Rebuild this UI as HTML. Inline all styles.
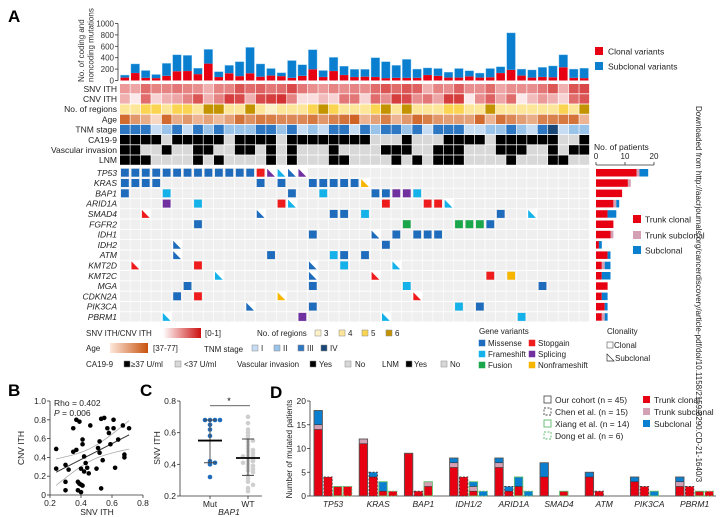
<!DOCTYPE html>
<html><head><meta charset="utf-8"><style>
html,body{margin:0;padding:0;background:#fff;width:721px;height:517px;overflow:hidden;}
svg{display:block;font-family:"Liberation Sans",Arial,sans-serif;overflow:hidden;}
</style></head><body>
<svg id="fig" width="721" height="517" viewBox="0 0 721 517" xmlns="http://www.w3.org/2000/svg">
<g id="gA"></g>
<g id="gB"></g>
<g id="gC"></g>
<g id="gD"></g>
<text x="0" y="0" transform="translate(696,106) rotate(90)" font-size="8" fill="#222">Downloaded from http://aacrjournals.org/cancerdiscovery/article-pdf/doi/10.1158/2159-8290.CD-21-1640/3</text>
</svg>
<script>
// ===== Panel A data =====
const patientTotals=[95,290,175,105,300,450,440,215,545,155,265,330,580,290,210,135,350,275,540,175,405,250,195,195,400,330,265,370,200,220,210,145,210,170,130,210,240,835,200,185,230,255,450,200,215];
const patientClonal=[50,130,45,40,80,160,165,110,295,60,125,75,125,65,85,75,45,80,195,60,165,95,60,65,60,40,45,45,45,95,80,50,50,70,50,55,130,185,85,50,60,55,230,45,40];
const snvITH=[0.4,0.35,0.6,0.5,0.5,0.55,0.5,0.45,0.3,0.5,0.5,0.7,0.6,0.65,0.55,0.6,0.75,0.55,0.45,0.4,0.5,0.45,0.5,0.45,0.6,0.7,0.6,0.7,0.65,0.3,0.5,0.45,0.65,0.45,0.45,0.6,0.35,0.45,0.45,0.45,0.55,0.7,0.3,0.7,0.75];
const cnvITH=[0.3,0.05,0.6,0.15,0.3,0.35,0.5,0.7,0.3,0.5,0.8,0.75,0.3,0.75,0.8,0.85,0.5,0.1,0.1,0.25,0.15,0.55,0.55,0.15,0.6,0.45,0.8,0.75,0.45,0.55,0.35,0.8,0.8,0.05,0.45,0.65,0.35,0.6,0.05,0.25,0.4,0.3,0.15,0.6,0.7];
const regions=[4,4,5,5,4,5,5,4,6,6,4,4,6,4,3,4,4,4,5,6,5,4,4,4,5,6,4,6,4,4,4,5,5,4,4,6,4,4,4,4,4,4,5,4,6];
const ages=[70,58,52,40,70,52,58,50,55,48,55,68,60,66,65,62,62,62,66,58,64,68,72,50,55,65,50,58,70,65,58,56,56,55,70,50,68,62,56,52,64,64,66,68,50];
const tnm=[3,3,3,1,2,3,1,3,2,3,2,2,2,3,3,2,3,1,2,1,3,3,1,3,2,3,3,2,3,1,3,3,3,1,1,2,2,3,2,1,3,4,1,2,2];
const ca199=[1,1,1,1,0,1,1,1,1,1,0,1,1,1,1,0,1,1,1,1,1,1,1,1,0,0,0,1,0,0,0,1,1,1,1,0,1,1,1,1,1,1,0,0,1];
const vascular=[1,1,0,0,1,0,0,1,1,0,0,1,1,0,1,0,1,0,0,0,1,0,0,0,0,1,1,1,0,0,1,1,1,0,0,0,1,1,1,0,0,1,0,1,1];
const lnm=[1,1,1,0,0,0,0,1,0,1,0,0,0,0,1,0,1,0,0,0,1,1,0,0,0,0,1,0,1,0,1,1,1,0,0,0,0,1,0,0,0,1,1,0,0];
const genes=["TP53","KRAS","BAP1","ARID1A","SMAD4","FGFR2","IDH1","IDH2","ATM","KMT2D","KMT2C","MGA","CDKN2A","PIK3CA","PBRM1"];
const mutations=[
[0,0,"M",0],[0,1,"M",0],[0,2,"M",0],[0,3,"M",0],[0,4,"M",0],[0,5,"M",0],[0,6,"M",0],[0,7,"M",0],[0,8,"M",0],[0,9,"M",0],[0,10,"M",0],[0,11,"M",0],[0,12,"M",0],[0,13,"S",0],[0,14,"P",1],[0,15,"F",1],[0,16,"M",1],[0,17,"P",1],
[1,0,"M",0],[1,1,"M",0],[1,2,"M",0],[1,3,"M",0],[1,13,"M",0],[1,15,"M",0],[1,18,"M",0],[1,19,"M",0],[1,20,"M",0],[1,21,"M",0],[1,22,"M",0],[1,23,"N",1],
[2,0,"M",0],[2,4,"F",0],[2,16,"M",0],[2,19,"F",0],[2,24,"M",0],[2,25,"M",0],[2,26,"P",0],[2,27,"P",0],[2,28,"F",0],
[3,4,"P",0],[3,7,"F",0],[3,15,"S",0],[3,16,"F",1],[3,25,"S",0],[3,29,"S",0],[3,30,"S",0],[3,31,"F",1],
[4,2,"S",1],[4,13,"M",1],[4,20,"M",0],[4,21,"M",0],[4,23,"F",0],[4,36,"M",0],[4,39,"F",1],
[5,7,"M",0],[5,27,"U",0],[5,32,"U",0],[5,33,"U",0],[5,34,"U",0],[5,35,"M",0],
[6,18,"M",0],[6,24,"M",1],[6,26,"M",0],[6,28,"M",0],[6,29,"M",0],[6,30,"M",0],
[7,5,"M",1],[7,25,"M",0],
[8,5,"M",1],[8,14,"M",0],[8,20,"F",0],[8,21,"M",0],[8,23,"M",0],
[9,1,"S",1],[9,7,"S",0],[9,18,"M",1],[9,21,"F",0],[9,26,"F",1],
[10,9,"F",1],[10,18,"M",1],[10,24,"S",1],[10,35,"S",0],[10,37,"N",0],
[11,6,"M",0],[11,18,"M",0],[11,27,"F",0],[11,40,"M",0],
[12,5,"M",0],[12,7,"S",0],[12,15,"N",1],[12,28,"S",1],
[13,12,"M",1],[13,18,"M",0],[13,32,"F",0],[13,34,"M",0],
[14,4,"F",1],[14,17,"P",0],[14,25,"F",1],[14,38,"F",0]];
const trunkClonal=[14,11,9,6,4,6,5,1,4,2,2,4,2,3,2];
const trunkSubclonal=[1,1,0,1,0,0,1,0,0,1,0,0,0,0,1];
const subclonalCounts=[3,0,0,1,3,0,0,1,1,2,3,0,2,1,1];
const topTicks=[0,200,400,600,800,1000];
const patientTicks=[0,10,20];
// ===== Panel B data =====
const snvB=[0.24,0.24,0.30,0.30,0.30,0.32,0.35,0.35,0.37,0.37,0.38,0.38,0.39,0.39,0.40,0.40,0.40,0.41,0.41,0.42,0.41,0.42,0.43,0.44,0.45,0.46,0.50,0.51,0.52,0.52,0.53,0.53,0.54,0.55,0.57,0.58,0.59,0.61,0.61,0.62,0.64,0.67,0.68,0.68,0.71];
const cnvB=[0.49,0.28,0.32,0.14,0.05,0.27,0.71,0.46,0.48,0.80,0.14,0.05,0.78,0.12,0.03,0.11,0.28,0.54,0.59,0.41,0.10,0.25,0.34,0.29,0.23,0.74,0.28,0.50,0.57,0.45,0.07,0.81,0.37,0.82,0.71,0.66,0.54,0.80,0.71,0.29,0.59,0.74,0.43,0.40,0.71];
const bTicksX=[0.2,0.4,0.6,0.8];
const bTicksY=[0,0.2,0.4,0.6,0.8,1.0];
// ===== Panel C data =====
const mutVals=[0.68,0.68,0.68,0.68,0.65,0.62,0.58,0.42,0.41,0.40,0.32];
const wtVals=[0.70,0.66,0.62,0.60,0.58,0.56,0.55,0.54,0.52,0.50,0.49,0.48,0.47,0.46,0.45,0.45,0.44,0.43,0.42,0.42,0.41,0.40,0.39,0.38,0.37,0.36,0.35,0.33,0.31,0.29,0.27,0.25,0.23];
const cStats=[[0.55,0.41,0.68],[0.44,0.33,0.56]];
const cTicks=[0.2,0.4,0.6,0.8];
// ===== Panel D data =====
const dGenes=["TP53","KRAS","BAP1","IDH1/2","ARID1A","SMAD4","ATM","PIK3CA","PBRM1"];
const dClonal=[[14,4,2,2],[11,4,1,1],[9,1,2,0],[6,4,1,0],[6,1,2,0],[4,0,1,0],[4,1,0,0],[3,2,0,0],[2,2,1,1]];
const dTrunkSub=[[1,0,0,0],[1,0,0,0],[0,0,1,0],[1,0,1,0],[1,0,0,0],[0,0,0,0],[0,0,0,0],[0,0,0,0],[1,0,0,0]];
const dSubclonal=[[3,0,0,0],[0,1,2,0],[0,0,0,0],[1,0,1,1],[1,1,2,1],[3,0,0,0],[1,0,0,0],[1,0,1,0],[1,0,0,0]];
const dCohorts=["Our cohort (n = 45)","Chen et al. (n = 15)","Xiang et al. (n = 14)","Dong et al. (n = 6)"];
const dTicks=[0,5,10,15,20];

const NS="http://www.w3.org/2000/svg";
function mk(parent,tag,attrs,text){const e=document.createElementNS(NS,tag);for(const k in attrs)e.setAttribute(k,attrs[k]);if(text!==undefined)e.textContent=text;parent.appendChild(e);return e;}
const RED="#e60012",BLUE="#0a7fd0",PINK="#d4a0b4";
const typeColor={M:"#1f6cbd",F:"#15b2ea",U:"#1aa64a",S:"#ee1c1c",P:"#7030a0",N:"#f7b500"};
function mixColor(a,b,t){const pa=[1,3,5].map(i=>parseInt(a.substr(i,2),16)),pb=[1,3,5].map(i=>parseInt(b.substr(i,2),16));return "rgb("+pa.map((v,i)=>Math.round(v+(pb[i]-v)*t)).join(",")+")";}

// ===== Panel A =====
const A=document.getElementById('gA');
let t=mk(A,'text',{x:8,y:22,'font-size':17,'font-weight':'bold'},'A');

const colX=i=>120+i*10.44, CW=9.4;
const barY=v=>80.5-v*57/1000;
let ax=mk(A,'line',{x1:118,y1:barY(0),x2:118,y2:barY(1000),stroke:'#333','stroke-width':0.8});

topTicks.forEach(v=>{mk(A,'line',{x1:115,y1:barY(v),x2:118,y2:barY(v),stroke:'#333','stroke-width':0.8});
 const tl=mk(A,'text',{x:114,y:barY(v)+3,'font-size':8,'text-anchor':'end',fill:'#333'},v);
 });
const yt=mk(A,'text',{transform:'translate(84,82) rotate(-90)','font-size':8,fill:'#333'});

mk(yt,'tspan',{x:0,dy:0},'No. of coding and');mk(yt,'tspan',{x:0,dy:9.5},'noncoding mutations');
patientTotals.forEach((tot,i)=>{
 const c=patientClonal[i];
 const b1=mk(A,'rect',{x:colX(i)+0.5,y:barY(tot),width:8.6,height:barY(c)-barY(tot),fill:BLUE,stroke:'#7cc1ec','stroke-width':0.4});
 
 const b2=mk(A,'rect',{x:colX(i)+0.5,y:barY(c),width:8.6,height:barY(0)-barY(c),fill:RED});
 
});
[[RED,'Clonal variants',47],[BLUE,'Subclonal variants',62]].forEach(([col,lab,y])=>{
 const r=mk(A,'rect',{x:595,y:y,width:8,height:8,fill:col});
 const tx=mk(A,'text',{x:608,y:y+7.5,'font-size':8.5,fill:'#222'},lab);});
const annLabels=["SNV ITH","CNV ITH","No. of regions","Age","TNM stage","CA19-9","Vascular invasion","LNM"];
const regionCol={3:"#fdf1c8",4:"#fde69a",5:"#fbd452",6:"#c49300"};
const tnmCol={1:"#c6ddf3",2:"#9ac3ea",3:"#2e77c3",4:"#1b4776"};
const annY=r=>84+r*10.2;
annLabels.forEach((lab,r)=>{const tx=mk(A,'text',{x:117,y:annY(r)+7.8,'font-size':8.5,'text-anchor':'end',fill:'#222'},lab);
 });
for(let i=0;i<45;i++){
 const cols=[mixColor("#fff5f5","#cc1010",snvITH[i]),mixColor("#fff5f5","#cc1010",cnvITH[i]),regionCol[regions[i]],mixColor("#fde3d2","#c8520c",(ages[i]-37)/40),tnmCol[tnm[i]],ca199[i]?"#000":"#d8d8d8",vascular[i]?"#000":"#d8d8d8",lnm[i]?"#000":"#d8d8d8"];
 cols.forEach((c,r)=>{const cell=mk(A,'rect',{x:colX(i),y:annY(r),width:CW+0.4,height:9.4,fill:c});
  });
}
const gY=g=>168+g*10.3;
genes.forEach((g,gi)=>{const tx=mk(A,'text',{x:117,y:gY(gi)+7.8,'font-size':8.5,'text-anchor':'end','font-style':'italic',fill:'#222'},g);
 
 for(let i=0;i<45;i++){const c=mk(A,'rect',{x:colX(i),y:gY(gi),width:CW+0.4,height:9.4,fill:'#efefef'});
  }});
mutations.forEach(([g,p,ty,sub])=>{
 const x=colX(p)+1,y=gY(g)+0.7,w=CW-1.6,h=8;
 let m;
 if(sub){mk(A,'rect',{x:colX(p),y:gY(g),width:CW+0.4,height:9.4,fill:'#fff'});
  m=mk(A,'polygon',{points:`${x},${y} ${x},${y+h} ${x+w},${y+h}`,fill:typeColor[ty]});}
 else m=mk(A,'rect',{x:x,y:y,width:w,height:h,fill:typeColor[ty]});
 
});
const pX=v=>596+v*58/20;
const pt=mk(A,'text',{x:594,y:150,'font-size':8.5,fill:'#222'},'No. of patients');
mk(A,'line',{x1:pX(0),y1:165,x2:pX(20),y2:165,stroke:'#333','stroke-width':0.8});
patientTicks.forEach(v=>{mk(A,'line',{x1:pX(v),y1:162,x2:pX(v),y2:165,stroke:'#333','stroke-width':0.8});
 const tl=mk(A,'text',{x:pX(v),y:159,'font-size':8,'text-anchor':'middle',fill:'#222'},v);});
genes.forEach((g,gi)=>{let s=0;[[trunkClonal[gi],RED,'trunk-clonal-bar'],[trunkSubclonal[gi],PINK,'trunk-subclonal-bar'],[subclonalCounts[gi],BLUE,'subclonal-bar']].forEach(([v,c,n])=>{
 if(v>0){const r=mk(A,'rect',{x:pX(s),y:gY(gi)+1,width:pX(s+v)-pX(s),height:7.5,fill:c});}s+=v;});});
[[RED,'Trunk clonal',215],[PINK,'Trunk subclonal',231],[BLUE,'Subclonal',246]].forEach(([c,l,y])=>{
 const r=mk(A,'rect',{x:633,y:y,width:8,height:8,fill:c});
 const tx=mk(A,'text',{x:645,y:y+7.5,'font-size':8.5,fill:'#222'},l);});
function txt(x,y,s,name,extra){const e=mk(A,'text',Object.assign({x:x,y:y,'font-size':8,fill:'#222'},extra||{}),s);return e;}
function box(x,y,c,name,stroke){const e=mk(A,'rect',{x:x,y:y,width:6,height:6,fill:c,stroke:stroke||'#888','stroke-width':0.5});return e;}
const defs=mk(document.getElementById('fig'),'defs',{});
const lg1=mk(defs,'linearGradient',{id:'gRed'});mk(lg1,'stop',{offset:0,'stop-color':'#fff'});mk(lg1,'stop',{offset:1,'stop-color':'#cc1010'});
const lg2=mk(defs,'linearGradient',{id:'gAge'});mk(lg2,'stop',{offset:0,'stop-color':'#fde8dc'});mk(lg2,'stop',{offset:1,'stop-color':'#c8520c'});
txt(86,336,'SNV ITH/CNV ITH','legend-ith-title');
let gr=mk(A,'rect',{x:163,y:328,width:38,height:10,fill:'url(#gRed)'});
txt(205,336,'[0-1]','ith-range');
txt(257,336,'No. of regions','legend-regions-title');
[[315,3],[339,4],[362,5],[386,6]].forEach(([x,v])=>{box(x,330,regionCol[v],'regions-swatch');txt(x+9,336,v,'regions-entry');});
txt(86,351,'Age','legend-age-title');
gr=mk(A,'rect',{x:110,y:343,width:38,height:10,fill:'url(#gAge)'});
txt(153,351,'[37-77]','age-range');
txt(204,352,'TNM stage','legend-tnm-title');
[[252,1,'I'],[274,2,'II'],[298,3,'III'],[321,4,'IV']].forEach(([x,v,l])=>{box(x,345,tnmCol[v],'tnm-swatch');txt(x+9,351,l,'tnm-entry');});
txt(86,367,'CA19-9','legend-ca199-title');box(124,361,'#000','ca199-high-swatch');txt(131,367,'≥37 U/ml','ca199-high');box(175,361,'#d8d8d8','ca199-low-swatch');txt(184,367,'<37 U/ml','ca199-low');
txt(237,367,'Vascular invasion','legend-vascular-title');box(310,361,'#000','vascular-yes-swatch');txt(319,367,'Yes','vascular-yes');box(345,361,'#d8d8d8','vascular-no-swatch');txt(355,367,'No','vascular-no');
txt(382,367,'LNM','legend-lnm-title');box(406,361,'#000','lnm-yes-swatch');txt(414,367,'Yes','lnm-yes');box(441,361,'#d8d8d8','lnm-no-swatch');txt(450,367,'No','lnm-no');
txt(479,334,'Gene variants','legend-gene-variants-title');
[['M','Missense',479,346],['F','Frameshift',479,357],['U','Fusion',479,368],['S','Stopgain',529,346],['P','Splicing',529,357],['N','Nonframeshift',529,368]].forEach(([k,l,x,y])=>{box(x,y-6,typeColor[k],'variant-swatch',typeColor[k]);txt(x+9,y,l,'variant-entry');});
txt(607,334,'Clonality','legend-clonality-title');
box(607,342,'#fff','clonal-swatch','#333');txt(614,348,'Clonal','clonal-entry');
let tri=mk(A,'polygon',{points:'607,354 607,361 614,361',fill:'none',stroke:'#333','stroke-width':0.7});
txt(615,361,'Subclonal','subclonal-entry');

// ===== Panel B =====
const B=document.getElementById('gB');
const bx=v=>50+(v-0.2)*93/0.6, by=v=>495-v*94;
t=mk(B,'text',{x:8,y:396,'font-size':17,'font-weight':'bold'},'B');
mk(B,'line',{x1:bx(0.2),y1:by(0),x2:bx(0.8),y2:by(0),stroke:'#333','stroke-width':0.8});
mk(B,'line',{x1:bx(0.2),y1:by(0),x2:bx(0.2),y2:by(1),stroke:'#333','stroke-width':0.8});
bTicksX.forEach(v=>{mk(B,'line',{x1:bx(v),y1:by(0),x2:bx(v),y2:by(0)+3,stroke:'#333','stroke-width':0.8});
 const e=mk(B,'text',{x:bx(v),y:by(0)+11,'font-size':8.5,'text-anchor':'middle',fill:'#222'},v);});
bTicksY.forEach(v=>{mk(B,'line',{x1:bx(0.2)-3,y1:by(v),x2:bx(0.2),y2:by(v),stroke:'#333','stroke-width':0.8});
 const e=mk(B,'text',{x:bx(0.2)-4,y:by(v)+3,'font-size':8.5,'text-anchor':'end',fill:'#222'},v.toFixed(1).replace('0.0','0'));});
let e=mk(B,'text',{x:97,y:515,'font-size':8.5,'text-anchor':'middle',fill:'#222'},'SNV ITH');
e=mk(B,'text',{transform:'translate(24,448) rotate(-90)','font-size':8.5,'text-anchor':'middle',fill:'#222'},'CNV ITH');
const n=snvB.length,mx=snvB.reduce((a,b)=>a+b)/n,my=cnvB.reduce((a,b)=>a+b)/n;
let sxy=0,sxx=0;for(let i=0;i<n;i++){sxy+=(snvB[i]-mx)*(cnvB[i]-my);sxx+=(snvB[i]-mx)**2;}
const slope=sxy/sxx,icpt=my-slope*mx;
let resid=0;for(let i=0;i<n;i++)resid+=(cnvB[i]-icpt-slope*snvB[i])**2;const se=Math.sqrt(resid/(n-2));
let up=[],lo=[];for(let k=0;k<=20;k++){const x=0.24+k*(0.71-0.24)/20,yv=icpt+slope*x,w=2.0*se*Math.sqrt(1/n+(x-mx)**2/sxx);up.push(bx(x)+','+by(yv+w));lo.push(bx(x)+','+by(yv-w));}
e=mk(B,'polyline',{points:up.join(' '),fill:'none',stroke:'#aaa','stroke-width':0.8});
e=mk(B,'polyline',{points:lo.join(' '),fill:'none',stroke:'#aaa','stroke-width':0.8});
e=mk(B,'line',{x1:bx(0.24),y1:by(icpt+slope*0.24),x2:bx(0.71),y2:by(icpt+slope*0.71),stroke:'#333','stroke-width':1});
snvB.forEach((v,i)=>{const c=mk(B,'circle',{cx:bx(v),cy:by(cnvB[i]),r:2.3,fill:'#000'});});
e=mk(B,'text',{x:54,y:406,'font-size':8.5,fill:'#222'},'Rho = 0.402');
e=mk(B,'text',{x:54,y:416,'font-size':8.5,fill:'#222'});
mk(e,'tspan',{'font-style':'italic'},'P');mk(e,'tspan',{},' = 0.006');

// ===== Panel C =====
const C=document.getElementById('gC');
const cy=v=>496-(v-0.2)*95/0.6, cxs=[210,248];
t=mk(C,'text',{x:140,y:396,'font-size':17,'font-weight':'bold'},'C');
mk(C,'line',{x1:180,y1:cy(0.2),x2:180,y2:cy(0.8),stroke:'#333','stroke-width':0.8});
mk(C,'line',{x1:180,y1:cy(0.2),x2:262,y2:cy(0.2),stroke:'#333','stroke-width':0.8});
cTicks.forEach(v=>{mk(C,'line',{x1:177,y1:cy(v),x2:180,y2:cy(v),stroke:'#333','stroke-width':0.8});
 const q=mk(C,'text',{x:176,y:cy(v)+3,'font-size':8.5,'text-anchor':'end',fill:'#222'},v.toFixed(1));});
e=mk(C,'text',{transform:'translate(160,448) rotate(-90)','font-size':8.5,'text-anchor':'middle',fill:'#222'},'SNV ITH');
['Mut','WT'].forEach((l,i)=>{mk(C,'line',{x1:cxs[i],y1:cy(0.2),x2:cxs[i],y2:cy(0.2)+3,stroke:'#333','stroke-width':0.8});
 const q=mk(C,'text',{x:cxs[i],y:507,'font-size':8.5,'text-anchor':'middle',fill:'#222'},l);});
e=mk(C,'text',{x:229,y:515,'font-size':8.5,'text-anchor':'middle','font-style':'italic',fill:'#222'},'BAP1');
function jitter(vals){const seen={};return vals.map(v=>{const k=Math.round(v*50);seen[k]=(seen[k]||0)+1;const j=seen[k]-1;return (j%2?1:-1)*Math.ceil(j/2)*5;});}
[[mutVals,'#1f6cbd',0],[wtVals,'#cfcfcf',1]].forEach(([vals,col,gi])=>{const js=jitter(vals);vals.forEach((v,i)=>{const c=mk(C,'circle',{cx:cxs[gi]+js[i],cy:cy(v),r:2.3,fill:col});});
 const [m,l,h]=cStats[gi];
 mk(C,'line',{x1:cxs[gi],y1:cy(l),x2:cxs[gi],y2:cy(h),stroke:gi?'#444':'#555','stroke-width':1});
 mk(C,'line',{x1:cxs[gi]-6,y1:cy(l),x2:cxs[gi]+6,y2:cy(l),stroke:'#444','stroke-width':1});
 mk(C,'line',{x1:cxs[gi]-6,y1:cy(h),x2:cxs[gi]+6,y2:cy(h),stroke:'#444','stroke-width':1});
 const ml=mk(C,'line',{x1:cxs[gi]-12,y1:cy(m),x2:cxs[gi]+12,y2:cy(m),stroke:'#000','stroke-width':1.8});});
e=mk(C,'line',{x1:210,y1:cy(0.77),x2:250,y2:cy(0.77),stroke:'#333','stroke-width':0.8});
e=mk(C,'text',{x:229,y:cy(0.77)-2,'font-size':9,'text-anchor':'middle'},'*');

// ===== Panel D =====
const D=document.getElementById('gD');
const dy=v=>496-v*95/20;
t=mk(D,'text',{x:270,y:398,'font-size':17,'font-weight':'bold'},'D');
mk(D,'line',{x1:310,y1:dy(0),x2:310,y2:dy(20),stroke:'#333','stroke-width':0.8});
mk(D,'line',{x1:310,y1:dy(0),x2:716,y2:dy(0),stroke:'#333','stroke-width':0.8});
dTicks.forEach(v=>{mk(D,'line',{x1:307,y1:dy(v),x2:310,y2:dy(v),stroke:'#333','stroke-width':0.8});
 const q=mk(D,'text',{x:306,y:dy(v)+3,'font-size':8.5,'text-anchor':'end',fill:'#222'},v);});
e=mk(D,'text',{transform:'translate(292,449) rotate(-90)','font-size':8,'text-anchor':'middle',fill:'#222'},'Number of mutated patients');
const outline=[{s:'#555',d:''},{s:'#444',d:'2,1.5'},{s:'#5dbb6b',d:''},{s:'#5dbb6b',d:'2,1.5'}];
dGenes.forEach((g,gi)=>{const gx=314+gi*45.2;
 for(let k=0;k<4;k++){const x=gx+k*9.8,w=8.4;let s=0;
  [[dClonal[gi][k],RED,'d-trunk-clonal-bar'],[dTrunkSub[gi][k],PINK,'d-trunk-subclonal-bar'],[dSubclonal[gi][k],BLUE,'d-subclonal-bar']].forEach(([v,c,nm])=>{
   if(v>0){const r=mk(D,'rect',{x:x,y:dy(s+v),width:w,height:dy(s)-dy(s+v),fill:c});
    if(s>0)mk(D,'line',{x1:x,y1:dy(s),x2:x+w,y2:dy(s),stroke:'#333','stroke-width':0.6});}
   s+=v;});
  if(s>0){const o=mk(D,'rect',{x:x,y:dy(s),width:w,height:dy(0)-dy(s),fill:'none',stroke:outline[k].s,'stroke-width':0.9,'stroke-dasharray':outline[k].d});}}
 const lab=mk(D,'text',{x:gx+19,y:507,'font-size':8.5,'text-anchor':'middle','font-style':'italic',fill:'#222'},g);});
dCohorts.forEach((l,k)=>{const y=396+k*12;
 const b=mk(D,'rect',{x:544,y:y,width:7,height:7,fill:'none',stroke:outline[k].s,'stroke-width':0.9,'stroke-dasharray':outline[k].d});
 const q=mk(D,'text',{x:555,y:y+7,'font-size':8.5,fill:'#222'},l);});
[[RED,'Trunk clonal',396],[PINK,'Trunk subclonal',408],[BLUE,'Subclonal',420]].forEach(([c,l,y])=>{
 const r=mk(D,'rect',{x:643,y:y,width:7,height:7,fill:c});
 const q=mk(D,'text',{x:654,y:y+7,'font-size':8.5,fill:'#222'},l);});
</script>
</body></html>
